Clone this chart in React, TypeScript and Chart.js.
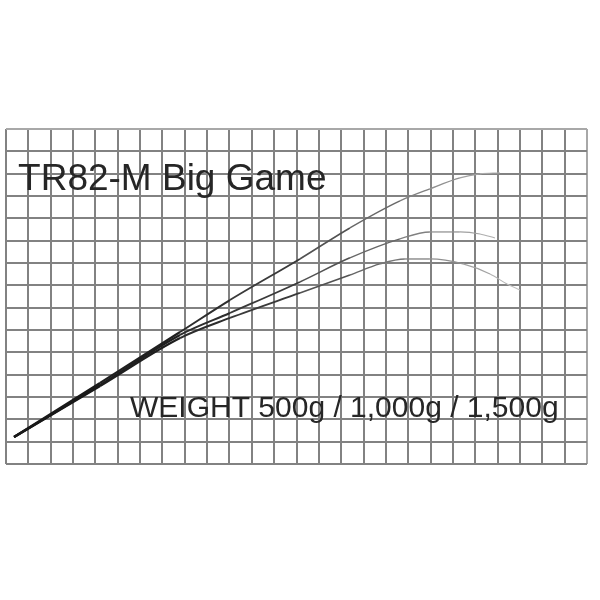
import React, { useEffect, useRef } from "react";
import { Chart, registerables } from "chart.js";

Chart.register(...registerables);

// Grid (in grid cells)
const X_MAX = 26;
const Y_MAX = 15;

// Texts
const TITLE = "TR82-M Big Game";
const WEIGHT_LABEL = "WEIGHT 500g / 1,000g / 1,500g";

// Rod bending curves (x / y in grid cells)
const x500 = [0.36, 4.21, 7.79, 10.02, 13.15, 15.39, 17.63, 18.97, 20.31, 21.21, 22.1];
const y500 = [1.21, 3.63, 5.91, 7.34, 9.18, 10.57, 11.78, 12.32, 12.81, 12.99, 13.04];

const x1000 = [0.36, 4.21, 7.79, 10.02, 13.15, 15.39, 17.63, 18.97, 20.31, 21.21, 21.88];
const y1000 = [1.21, 3.54, 5.78, 6.76, 8.15, 9.23, 10.08, 10.39, 10.39, 10.3, 10.12];

const x1500 = [0.36, 4.21, 7.79, 10.02, 13.15, 15.39, 16.73, 17.85, 18.97, 20.45, 21.66, 22.42, 23.0];
const y1500 = [1.21, 3.49, 5.64, 6.54, 7.66, 8.46, 8.96, 9.18, 9.18, 8.96, 8.51, 8.06, 7.79];

const toPoints = (xs: number[], ys: number[]) => xs.map((x, i) => ({ x, y: ys[i] }));

const taperColor = (ctx: any) => {
  const t = Math.min(1, Math.max(0, ctx.p0.parsed.x / 23));
  const v = Math.round(25 + t * t * 175);
  return `rgb(${v},${v},${v})`;
};
const taperWidth = (ctx: any) => {
  const t = Math.min(1, Math.max(0, ctx.p0.parsed.x / 23));
  return 2.5 - t * 1.5;
};

const textPlugin = {
  id: "rodTexts",
  afterDatasetsDraw(chart: any) {
    const { ctx, scales } = chart;
    const xs = scales.x;
    const ys = scales.y;
    ctx.save();
    ctx.fillStyle = "#262626";
    ctx.textBaseline = "alphabetic";
    ctx.textAlign = "left";
    ctx.font = "37px 'Liberation Sans', Arial, sans-serif";
    ctx.fillText(TITLE, xs.getPixelForValue(0.54), ys.getPixelForValue(12.27));
    ctx.font = "30px 'Liberation Sans', Arial, sans-serif";
    ctx.fillText(WEIGHT_LABEL, xs.getPixelForValue(5.55), ys.getPixelForValue(2.1));
    ctx.restore();
  },
};

export default function App() {
  const ref = useRef<HTMLCanvasElement | null>(null);

  useEffect(() => {
    if (!ref.current) return;
    const mk = (xs: number[], ys: number[]) => ({
      data: toPoints(xs, ys),
      borderColor: "#222",
      borderWidth: 2,
      pointRadius: 0,
      fill: false,
      cubicInterpolationMode: "monotone" as const,
      segment: { borderColor: taperColor, borderWidth: taperWidth },
    });
    const chart = new Chart(ref.current, {
      type: "line",
      data: {
        datasets: [mk(x500, y500), mk(x1000, y1000), mk(x1500, y1500)],
      },
      options: {
        animation: false,
        responsive: false,
        layout: { padding: { left: 6, right: 13, top: 129, bottom: 136 } },
        plugins: { legend: { display: false }, tooltip: { enabled: false } },
        scales: {
          x: {
            type: "linear",
            min: 0,
            max: X_MAX,
            ticks: { display: false, stepSize: 1, maxTicksLimit: 100, autoSkip: false },
            grid: {
              color: (c: any) => (c.tick && c.tick.value === X_MAX ? "#a8a8a8" : "#828282"),
              lineWidth: 2,
              drawTicks: false,
            },
            border: { display: false },
          },
          y: {
            type: "linear",
            min: 0,
            max: Y_MAX,
            ticks: { display: false, stepSize: 1, maxTicksLimit: 100, autoSkip: false },
            grid: {
              color: (c: any) => (c.tick && c.tick.value === Y_MAX ? "#a8a8a8" : "#828282"),
              lineWidth: 2,
              drawTicks: false,
            },
            border: { display: false },
          },
        },
      },
      plugins: [textPlugin],
    });
    return () => chart.destroy();
  }, []);

  return (
    <div style={{ position: "fixed", left: 0, top: 0, width: 600, height: 600, background: "#fff" }}>
      <canvas ref={ref} width={600} height={600} style={{ width: 600, height: 600 }} />
    </div>
  );
}
